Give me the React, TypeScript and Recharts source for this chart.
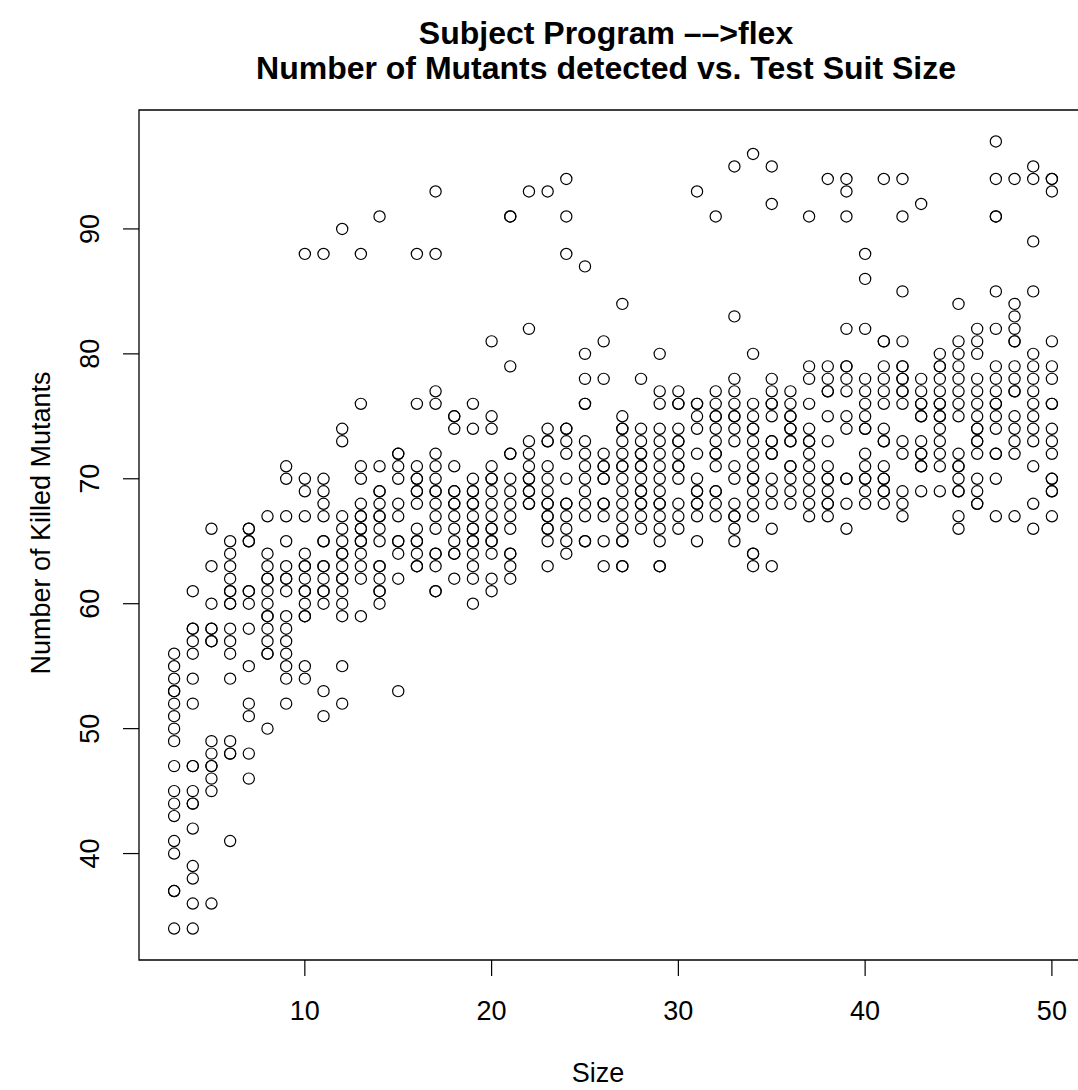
import React from "react";
import { ScatterChart, Scatter, XAxis, YAxis, ReferenceArea } from "recharts";

const sizes: number[] = [
  3, 4, 5, 6, 7, 8, 9, 10, 11, 12, 13, 14, 15, 16, 17, 18, 19, 20, 21, 22, 23, 24, 25, 26,
  27, 28, 29, 30, 31, 32, 33, 34, 35, 36, 37, 38, 39, 40, 41, 42, 43, 44, 45, 46, 47, 48, 49, 50,
];

const killedPerSize: number[][] = [
  [56, 55, 54, 53, 53, 52, 51, 50, 49, 47, 45, 44, 43, 41, 40, 37, 37, 34],
  [61, 58, 58, 57, 56, 54, 52, 47, 47, 45, 44, 44, 42, 39, 38, 36, 34],
  [66, 63, 60, 58, 58, 57, 57, 49, 48, 47, 47, 46, 45, 36],
  [65, 64, 63, 62, 61, 61, 60, 60, 58, 57, 56, 54, 49, 48, 48, 41],
  [66, 66, 65, 65, 61, 61, 60, 58, 55, 52, 51, 48, 46],
  [67, 64, 63, 62, 62, 61, 60, 59, 59, 58, 57, 56, 56, 50],
  [71, 70, 67, 65, 63, 62, 62, 61, 59, 58, 57, 56, 55, 54, 52],
  [88, 70, 69, 67, 64, 63, 63, 62, 61, 61, 60, 59, 59, 55, 54],
  [88, 70, 69, 68, 67, 65, 65, 63, 63, 62, 61, 61, 60, 53, 51],
  [90, 74, 73, 67, 66, 65, 64, 64, 63, 62, 62, 61, 60, 59, 55, 52],
  [88, 76, 71, 70, 68, 67, 67, 66, 66, 65, 65, 64, 63, 62, 59],
  [91, 71, 69, 69, 68, 67, 67, 66, 65, 63, 63, 62, 61, 61, 60],
  [72, 72, 71, 70, 68, 67, 65, 65, 64, 62, 53],
  [88, 76, 71, 70, 70, 69, 69, 68, 66, 65, 65, 64, 63, 63],
  [93, 88, 77, 76, 72, 71, 70, 69, 69, 68, 67, 66, 64, 64, 63, 61, 61],
  [75, 75, 74, 71, 69, 69, 68, 68, 67, 66, 65, 64, 64, 62],
  [76, 74, 70, 69, 69, 68, 68, 67, 66, 66, 65, 65, 64, 63, 62, 60],
  [81, 75, 74, 71, 70, 70, 69, 68, 67, 66, 66, 65, 65, 64, 62, 61],
  [91, 91, 79, 72, 72, 70, 69, 68, 67, 66, 64, 64, 63, 62],
  [93, 82, 73, 72, 71, 70, 70, 69, 69, 68, 68],
  [93, 74, 73, 73, 71, 70, 69, 68, 68, 67, 67, 66, 66, 65, 63],
  [94, 91, 88, 74, 74, 73, 72, 70, 68, 68, 67, 66, 65, 64],
  [87, 80, 78, 76, 76, 73, 72, 71, 70, 69, 68, 67, 65, 65],
  [81, 78, 72, 71, 71, 70, 70, 68, 68, 67, 65, 63],
  [84, 75, 74, 74, 73, 72, 71, 71, 70, 69, 68, 67, 66, 65, 65, 63, 63],
  [78, 74, 73, 72, 72, 71, 71, 70, 69, 69, 68, 68, 67, 66],
  [80, 77, 76, 74, 73, 72, 71, 70, 69, 68, 68, 67, 66, 65, 63, 63],
  [77, 76, 76, 74, 73, 73, 72, 71, 71, 70, 68, 67, 66],
  [93, 76, 76, 75, 74, 72, 70, 69, 69, 68, 68, 67, 65],
  [91, 77, 76, 75, 75, 74, 73, 72, 72, 71, 69, 69, 68, 67],
  [95, 83, 78, 77, 76, 75, 75, 74, 73, 71, 70, 68, 67, 67, 66, 65],
  [96, 80, 76, 75, 74, 74, 73, 72, 71, 70, 70, 69, 68, 67, 64, 64, 63],
  [95, 92, 78, 77, 76, 76, 75, 73, 73, 72, 72, 70, 69, 68, 66, 63],
  [77, 76, 75, 75, 74, 74, 73, 73, 71, 71, 70, 69, 68],
  [91, 79, 78, 76, 74, 73, 73, 72, 71, 70, 69, 68, 67],
  [94, 79, 78, 77, 77, 75, 73, 71, 70, 70, 69, 68, 68, 67],
  [94, 93, 91, 82, 79, 79, 78, 77, 75, 74, 70, 70, 68, 66],
  [88, 86, 82, 78, 77, 76, 75, 74, 74, 72, 71, 70, 70, 69, 68],
  [94, 81, 81, 79, 78, 77, 76, 74, 73, 73, 71, 70, 70, 69, 69, 68],
  [94, 91, 85, 81, 79, 79, 78, 78, 77, 77, 76, 73, 72, 69, 68, 67],
  [92, 78, 77, 76, 76, 75, 75, 73, 72, 72, 71, 71, 69],
  [80, 79, 79, 78, 77, 76, 76, 75, 75, 74, 73, 72, 71, 69],
  [84, 81, 80, 79, 78, 77, 76, 75, 72, 71, 71, 70, 69, 69, 67, 66],
  [82, 81, 80, 78, 77, 76, 75, 74, 74, 73, 73, 72, 70, 69, 68, 68],
  [97, 94, 91, 91, 85, 82, 79, 78, 77, 76, 76, 75, 74, 72, 72, 70, 67],
  [94, 84, 83, 82, 81, 81, 79, 78, 77, 77, 75, 74, 73, 72, 67],
  [95, 94, 89, 85, 80, 79, 78, 77, 76, 75, 74, 73, 71, 68, 66],
  [94, 94, 93, 81, 79, 78, 76, 76, 74, 73, 72, 70, 70, 69, 69, 67],
];

const xTicks: number[] = [10, 20, 30, 40, 50];
const yTicks: number[] = [40, 50, 60, 70, 80, 90];
const xDomain: [number, number] = [1.12, 51.88];
const yDomain: [number, number] = [31.48, 99.52];

const titleLine1 = "Subject Program \u2013\u2013>flex";
const titleLine2 = "Number of Mutants detected vs. Test Suit Size";
const xLabel = "Size";
const yLabel = "Number of Killed Mutants";

const FONT = "'Liberation Sans', Arial, Helvetica, sans-serif";
const AXIS_FS = 27;

const points = sizes.flatMap((s, i) =>
  killedPerSize[i].map((k) => ({ size: s, killed: k }))
);

const Ring = (props: any) => {
  const { cx, cy } = props;
  if (cx == null || cy == null) return null;
  return <circle cx={cx} cy={cy} r={5.6} fill="none" stroke="#000" strokeWidth={1.2} />;
};

const YTick = (props: any) => {
  const { y, payload } = props;
  return (
    <text
      transform={`translate(99,${y}) rotate(-90)`}
      textAnchor="middle"
      fontSize={AXIS_FS}
      fontFamily={FONT}
      fill="#000"
    >
      {payload.value}
    </text>
  );
};

export default function App() {
  return (
    <div
      style={{
        position: "fixed",
        left: 0,
        top: 0,
        width: 1078,
        height: 1090,
        overflow: "hidden",
        background: "#fff",
      }}
    >
      <ScatterChart
        width={1110}
        height={1090}
        margin={{ top: 110, right: 23, bottom: 0, left: 0 }}
      >
        <XAxis
          type="number"
          dataKey="size"
          domain={xDomain}
          ticks={xTicks}
          allowDataOverflow
          height={130}
          axisLine={false}
          tickLine={{ stroke: "#000", strokeWidth: 1.2 }}
          tickSize={16}
          tickMargin={25}
          tick={{ fill: "#000", fontSize: AXIS_FS, fontFamily: FONT }}
        />
        <YAxis
          type="number"
          dataKey="killed"
          domain={yDomain}
          ticks={yTicks}
          allowDataOverflow
          width={139}
          axisLine={false}
          tickLine={{ stroke: "#000", strokeWidth: 1.2 }}
          tickSize={16}
          tick={<YTick />}
        />
        <ReferenceArea
          x1={xDomain[0]}
          x2={xDomain[1]}
          y1={yDomain[0]}
          y2={yDomain[1]}
          fill="none"
          fillOpacity={0}
          stroke="#000"
          strokeWidth={1.3}
          ifOverflow="visible"
        />
        <Scatter data={points} shape={<Ring />} isAnimationActive={false} />
      </ScatterChart>
      <svg
        width={1078}
        height={1090}
        style={{ position: "absolute", left: 0, top: 0, pointerEvents: "none" }}
      >
        <text x={606} y={44} textAnchor="middle" fontSize={32} fontWeight="bold" fontFamily={FONT} fill="#000">
          {titleLine1}
        </text>
        <text x={606} y={79} textAnchor="middle" fontSize={32} fontWeight="bold" fontFamily={FONT} fill="#000">
          {titleLine2}
        </text>
        <text x={598} y={1082} textAnchor="middle" fontSize={AXIS_FS} fontFamily={FONT} fill="#000">
          {xLabel}
        </text>
        <text
          transform={`translate(50,523) rotate(-90)`}
          textAnchor="middle"
          fontSize={AXIS_FS}
          fontFamily={FONT}
          fill="#000"
        >
          {yLabel}
        </text>
      </svg>
    </div>
  );
}
